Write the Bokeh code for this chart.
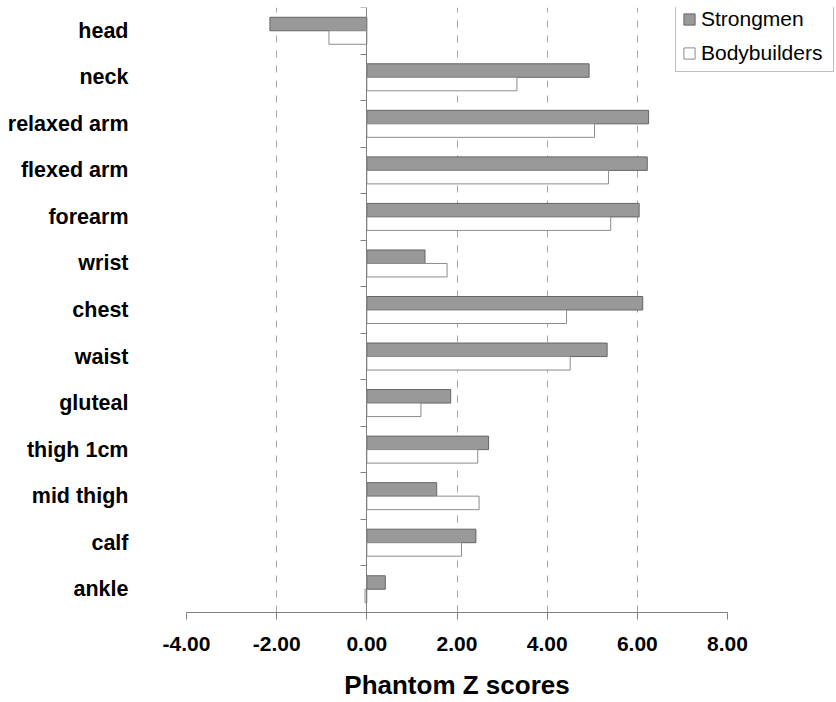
from bokeh.plotting import figure
from bokeh.models import (ColumnDataSource, Range1d, LinearAxis, FixedTicker,
                          NumeralTickFormatter)
from bokeh.transform import dodge
from bokeh.embed import file_html
from bokeh.resources import INLINE

categories = ["head", "neck", "relaxed arm", "flexed arm", "forearm", "wrist", "chest",
              "waist", "gluteal", "thigh 1cm", "mid thigh", "calf", "ankle"]
strongmen = [-2.15, 4.93, 6.25, 6.22, 6.04, 1.29, 6.12, 5.33, 1.86, 2.70, 1.55, 2.42, 0.41]
bodybuilders = [-0.84, 3.33, 5.05, 5.36, 5.41, 1.78, 4.43, 4.51, 1.20, 2.46, 2.49, 2.10, -0.04]
x_ticks = [-4, -2, 0, 2, 4, 6, 8]
grid_ticks = [-2, 2, 4, 6]
x_min, x_max = -4, 8

FONT = "Liberation Sans"
n = len(categories)
ypos = [n - i - 0.5 for i in range(n)]   # head at the top

# layout (pixels): plotting area 541 x 605 px; the frame continues left/right/down so that
# the x tick labels, axis title and legend are drawn inside it
PLOT_W, EXTRA_LEFT, EXTRA_RIGHT = 541, 36, 109
PLOT_H, EXTRA_BOTTOM = 605, 90
x_view_start = x_min - EXTRA_LEFT * (x_max - x_min) / PLOT_W
x_view_end = x_max + EXTRA_RIGHT * (x_max - x_min) / PLOT_W
y_view_start = -EXTRA_BOTTOM * n / PLOT_H

source = ColumnDataSource(dict(cat=categories, y=ypos, s=strongmen, b=bodybuilders))

p = figure(width=836, height=702, output_backend="svg", toolbar_location=None,
           x_range=Range1d(x_view_start, x_view_end), y_range=Range1d(y_view_start, n),
           x_axis_location=None,
           min_border_left=186 - EXTRA_LEFT, min_border_right=0, min_border_top=7,
           min_border_bottom=0)
p.outline_line_color = None

# dashed vertical gridlines
p.ygrid.visible = False
xg = p.xgrid[0]
xg.ticker = FixedTicker(ticks=grid_ticks)
xg.grid_line_color = "#a6a6a6"
xg.grid_line_dash = "7 8"
xg.grid_line_width = 1
if "cross_bounds" in xg.properties():
    xg.cross_bounds = (0, n)

p.hbar(y=dodge("y", 0.145), left=0, right="s", height=0.29, source=source,
       fill_color="#999999", line_color="#666666", line_width=1, legend_label="Strongmen")
p.hbar(y=dodge("y", -0.145), left=0, right="b", height=0.29, source=source,
       fill_color="#ffffff", line_color="#8c8c8c", line_width=1, legend_label="Bodybuilders")

# x axis (drawn at y = 0, labels inside the extended frame)
xaxis = LinearAxis(fixed_location=0, bounds=(x_min, x_max), ticker=FixedTicker(ticks=x_ticks),
                   formatter=NumeralTickFormatter(format="0.00"))
xaxis.axis_line_color = "#808080"
xaxis.major_tick_line_color = "#808080"
xaxis.major_tick_out = 7
xaxis.major_tick_in = 0
xaxis.minor_tick_line_color = None
xaxis.major_label_standoff = 17
xaxis.major_label_text_font = FONT
xaxis.major_label_text_font_style = "bold"
xaxis.major_label_text_font_size = "21px"
xaxis.major_label_text_color = "black"
xaxis.axis_label = "Phantom Z scores"
xaxis.axis_label_text_font = FONT
xaxis.axis_label_text_font_style = "bold"
xaxis.axis_label_text_font_size = "26px"
xaxis.axis_label_text_color = "black"
xaxis.axis_label_standoff = 16
p.add_layout(xaxis, "below")

# category labels
yaxis = p.yaxis[0]
yaxis.ticker = FixedTicker(ticks=ypos)
yaxis.major_label_overrides = {y: c for y, c in zip(ypos, categories)}
yaxis.axis_line_color = None
yaxis.major_tick_line_color = None
yaxis.minor_tick_line_color = None
yaxis.major_label_standoff = 52 - EXTRA_LEFT
yaxis.major_label_text_font = FONT
yaxis.major_label_text_font_style = "bold"
yaxis.major_label_text_font_size = "21.5px"
yaxis.major_label_text_color = "black"

# vertical axis at zero with ticks between categories
zaxis = LinearAxis(fixed_location=0, bounds=(0, n), ticker=FixedTicker(ticks=list(range(n + 1))))
zaxis.axis_line_color = "#808080"
zaxis.major_tick_line_color = "#808080"
zaxis.major_tick_out = 6
zaxis.major_tick_in = 0
zaxis.minor_tick_line_color = None
zaxis.major_label_text_color = None
p.add_layout(zaxis, "left")

leg = p.legend[0]
leg.location = (489 + EXTRA_LEFT, 540 + EXTRA_BOTTOM)
leg.border_line_color = "#808080"
leg.border_line_width = 1
leg.background_fill_color = "white"
leg.background_fill_alpha = 1
leg.label_text_font = FONT
leg.label_text_font_size = "21px"
leg.label_text_color = "black"
leg.glyph_width = 14
leg.glyph_height = 14
leg.label_standoff = 5
leg.label_height = 20
leg.label_width = 126
leg.spacing = 10
leg.padding = 6
leg.margin = 0

open("out.html", "w").write(file_html(p, INLINE))
